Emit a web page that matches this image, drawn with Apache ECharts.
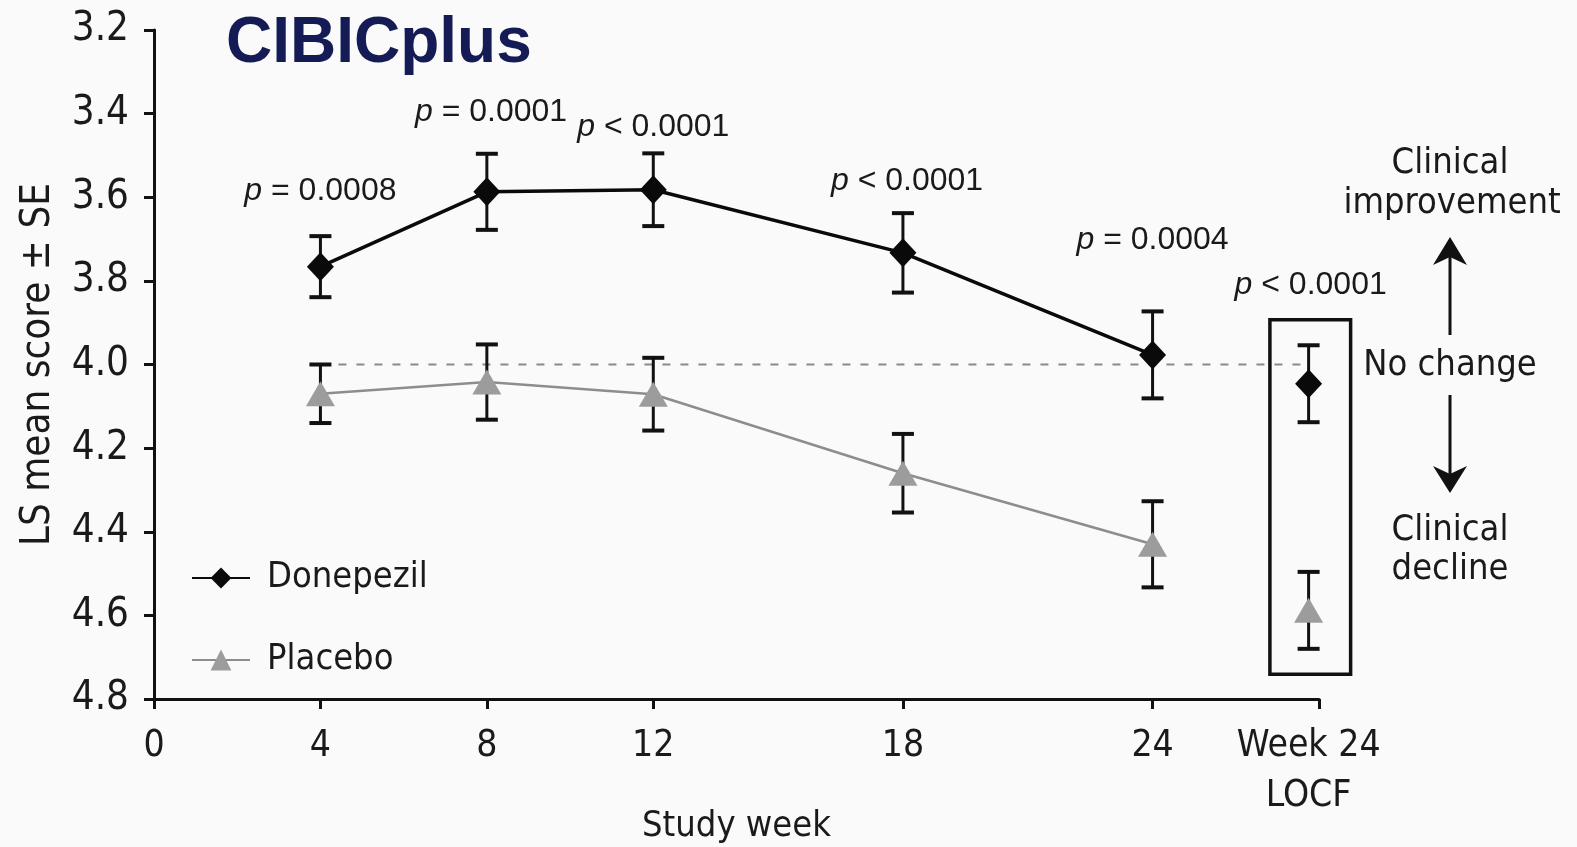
<!DOCTYPE html>
<html>
<head>
<meta charset="utf-8">
<script src="https://cdn.jsdelivr.net/npm/echarts@6/dist/echarts.min.js"></script>
<style>html,body{margin:0;padding:0;background:#fafafa}#c{width:1577px;height:847px}</style>
</head>
<body>
<div id="c"></div>
<script>
// ---------- data ----------
const weeks = [4, 8, 12, 18, 24];
const locfWeek = 27.75;
const donepezilMean = [3.766, 3.587, 3.582, 3.733, 3.977];
const donepezilSE = [0.073, 0.091, 0.087, 0.095, 0.104];
const placeboMean = [4.070, 4.042, 4.071, 4.260, 4.430];
const placeboSE = [0.070, 0.090, 0.087, 0.094, 0.103];
const donepezilLOCFMean = 4.046;
const donepezilLOCFSE = 0.092;
const placeboLOCFMean = 4.588;
const placeboLOCFSE = 0.092;
const xTickValues = [0, 4, 8, 12, 18, 24, 28];
const xLabelValues = [0, 4, 8, 12, 18, 24, 27.75];
const xLabelTexts = ['0', '4', '8', '12', '18', '24', 'Week 24\nLOCF'];
const noChangeValue = 4.0;
const noChangeRange = [4, 27.6];
const pTexts = ['p = 0.0008', 'p = 0.0001', 'p < 0.0001', 'p < 0.0001', 'p = 0.0004', 'p < 0.0001'];
const pTextWeek = [4, 8.1, 12, 18.1, 24, 27.8];
const pTextScore = [3.585, 3.397, 3.433, 3.561, 3.703, 3.811];
const locfBoxWeek = [26.82, 28.76];
const locfBoxScore = [3.893, 4.741];

// ---------- style ----------
const CF = "'Liberation Sans Narrow','DejaVu Sans Condensed','Liberation Sans',sans-serif";
const PF = "'Liberation Sans',Arial,sans-serif";
const TXT = '#1a1a1a';
const GRAY = '#8d8d8d';

const chart = echarts.init(document.getElementById('c'), null, {renderer: 'canvas'});

function errData(xs, means, ses) {
  return xs.map((x, i) => [x, means[i] - ses[i], means[i] + ses[i]]);
}
const errAll = errData(weeks, donepezilMean, donepezilSE)
  .concat(errData(weeks, placeboMean, placeboSE))
  .concat([[locfWeek, donepezilLOCFMean - donepezilLOCFSE, donepezilLOCFMean + donepezilLOCFSE],
           [locfWeek, placeboLOCFMean - placeboLOCFSE, placeboLOCFMean + placeboLOCFSE]]);

function renderErr(params, api) {
  const x = api.value(0), lo = api.value(1), hi = api.value(2);
  const a = api.coord([x, lo]), b = api.coord([x, hi]);
  const hw = 11;
  return {type: 'group', children: [
    {type: 'line', shape: {x1: a[0], y1: a[1], x2: b[0], y2: b[1]}, style: {stroke: '#111', lineWidth: 3}},
    {type: 'line', shape: {x1: a[0] - hw, y1: a[1], x2: a[0] + hw, y2: a[1]}, style: {stroke: '#111', lineWidth: 4}},
    {type: 'line', shape: {x1: b[0] - hw, y1: b[1], x2: b[0] + hw, y2: b[1]}, style: {stroke: '#111', lineWidth: 4}}
  ]};
}

const diamond = {symbol: 'diamond', symbolSize: [27, 29]};
const tri = {symbol: 'triangle', symbolSize: [29, 25]};

const option = {
  backgroundColor: '#fafafa',
  animation: false,
  grid: {left: 154, right: 258, top: 30, bottom: 148, containLabel: false, outerBoundsMode: 'none'},
  legend: {
    data: ['Donepezil', 'Placebo'],
    orient: 'vertical', left: 186, top: 553,
    itemGap: 42, itemWidth: 58, itemHeight: 26,
    textStyle: {fontFamily: CF, fontSize: 36, color: TXT, padding: [0, 0, 0, 12], lineHeight: 40},
    selectedMode: false
  },
  xAxis: {
    type: 'value', min: 0, max: 28,
    name: 'Study week', nameLocation: 'middle', nameGap: 110, nameMoveOverlap: false,
    nameTextStyle: {fontFamily: CF, fontSize: 36, color: TXT},
    axisLine: {show: true, onZero: false, lineStyle: {color: '#111', width: 3}},
    axisTick: {show: true, length: 10, lineStyle: {color: '#111', width: 3}, customValues: xTickValues},
    axisLabel: {
      fontFamily: CF, fontSize: 37, color: TXT, margin: 22, lineHeight: 50,
      customValues: xLabelValues,
      formatter: v => { const i = xLabelValues.findIndex(t => Math.abs(t - v) < 1e-6); return i >= 0 ? xLabelTexts[i] : ''; }
    },
    splitLine: {show: false}
  },
  yAxis: {
    type: 'value', inverse: true, min: 3.2, max: 4.8, interval: 0.2,
    name: 'LS mean score \u00b1 SE', nameLocation: 'middle', nameGap: 95, nameRotate: 90, nameMoveOverlap: false,
    nameTextStyle: {fontFamily: CF, fontSize: 40, color: TXT},
    axisLine: {show: true, onZero: false, lineStyle: {color: '#111', width: 3}},
    axisTick: {show: true, length: 10, lineStyle: {color: '#111', width: 3}},
    axisLabel: {fontFamily: CF, fontSize: 40, color: TXT, margin: 25, formatter: v => v.toFixed(1)},
    splitLine: {show: false}
  },
  series: [
    {
      name: 'noChange', type: 'line', silent: true, symbol: 'none', z: 1,
      data: noChangeRange.map(x => [x, noChangeValue]),
      lineStyle: {color: '#8a8a8a', width: 2, type: [8, 10]}
    },
    {
      name: 'errors', type: 'custom', renderItem: renderErr, z: 2, silent: true,
      data: errAll
    },
    {
      name: 'Placebo', type: 'line', z: 3, ...tri,
      data: weeks.map((w, i) => [w, placeboMean[i]]),
      lineStyle: {color: GRAY, width: 2.5},
      itemStyle: {color: '#9c9c9c'}
    },
    {
      name: 'Donepezil', type: 'line', z: 4, ...diamond,
      data: weeks.map((w, i) => [w, donepezilMean[i]]),
      lineStyle: {color: '#0a0a0a', width: 3.5},
      itemStyle: {color: '#0a0a0a'}
    },
    {
      name: 'PlaceboLOCF', type: 'scatter', z: 3, ...tri,
      data: [[locfWeek, placeboLOCFMean]], itemStyle: {color: '#9c9c9c', opacity: 1}
    },
    {
      name: 'DonepezilLOCF', type: 'scatter', z: 4, ...diamond,
      data: [[locfWeek, donepezilLOCFMean]], itemStyle: {color: '#0a0a0a', opacity: 1}
    },
    {
      name: 'pvalues', type: 'scatter', z: 5, silent: true, symbolSize: 1,
      itemStyle: {color: 'rgba(0,0,0,0)', opacity: 1},
      data: pTextWeek.map((w, i) => [w, pTextScore[i], pTexts[i]]),
      label: {
        show: true, position: 'inside', color: TXT, textBorderWidth: 0,
        formatter: p => '{i|' + p.value[2].charAt(0) + '}{n|' + p.value[2].slice(1) + '}',
        rich: {
          i: {fontFamily: PF, fontStyle: 'italic', fontSize: 32, color: TXT, textBorderWidth: 0},
          n: {fontFamily: PF, fontSize: 32, color: TXT, textBorderWidth: 0}
        }
      }
    }
  ]
};
chart.setOption(option);

// annotation graphics
const b1 = chart.convertToPixel({gridIndex: 0}, [locfBoxWeek[0], locfBoxScore[0]]);
const b2 = chart.convertToPixel({gridIndex: 0}, [locfBoxWeek[1], locfBoxScore[1]]);
const ax = 1450;
const textBase = {fontFamily: CF, fontSize: 36, fill: TXT, textAlign: 'center', textVerticalAlign: 'middle'};
chart.setOption({
  graphic: [
    {type: 'text', left: 226, top: 12, style: {text: 'CIBICplus', fontFamily: PF, fontWeight: 'bold', fontSize: 64, fill: '#141b55'}},
    {type: 'rect', shape: {x: b1[0], y: b1[1], width: b2[0] - b1[0], height: b2[1] - b1[1]}, style: {fill: 'none', stroke: '#111', lineWidth: 3.5}},
    {type: 'text', x: ax, y: 164, style: Object.assign({text: 'Clinical'}, textBase)},
    {type: 'text', x: ax + 2, y: 204, style: Object.assign({text: 'improvement'}, textBase)},
    {type: 'text', x: ax, y: 366, style: Object.assign({text: 'No change'}, textBase)},
    {type: 'text', x: ax, y: 531, style: Object.assign({text: 'Clinical'}, textBase)},
    {type: 'text', x: ax, y: 570, style: Object.assign({text: 'decline'}, textBase)},
    {type: 'line', shape: {x1: ax, y1: 335, x2: ax, y2: 255}, style: {stroke: '#111', lineWidth: 3}},
    {type: 'polygon', shape: {points: [[ax, 237], [ax + 17, 265], [ax, 257], [ax - 17, 265]]}, style: {fill: '#111'}},
    {type: 'line', shape: {x1: ax, y1: 395, x2: ax, y2: 476}, style: {stroke: '#111', lineWidth: 3}},
    {type: 'polygon', shape: {points: [[ax, 493], [ax + 17, 466], [ax, 474], [ax - 17, 466]]}, style: {fill: '#111'}}
  ]
});
</script>
</body>
</html>
